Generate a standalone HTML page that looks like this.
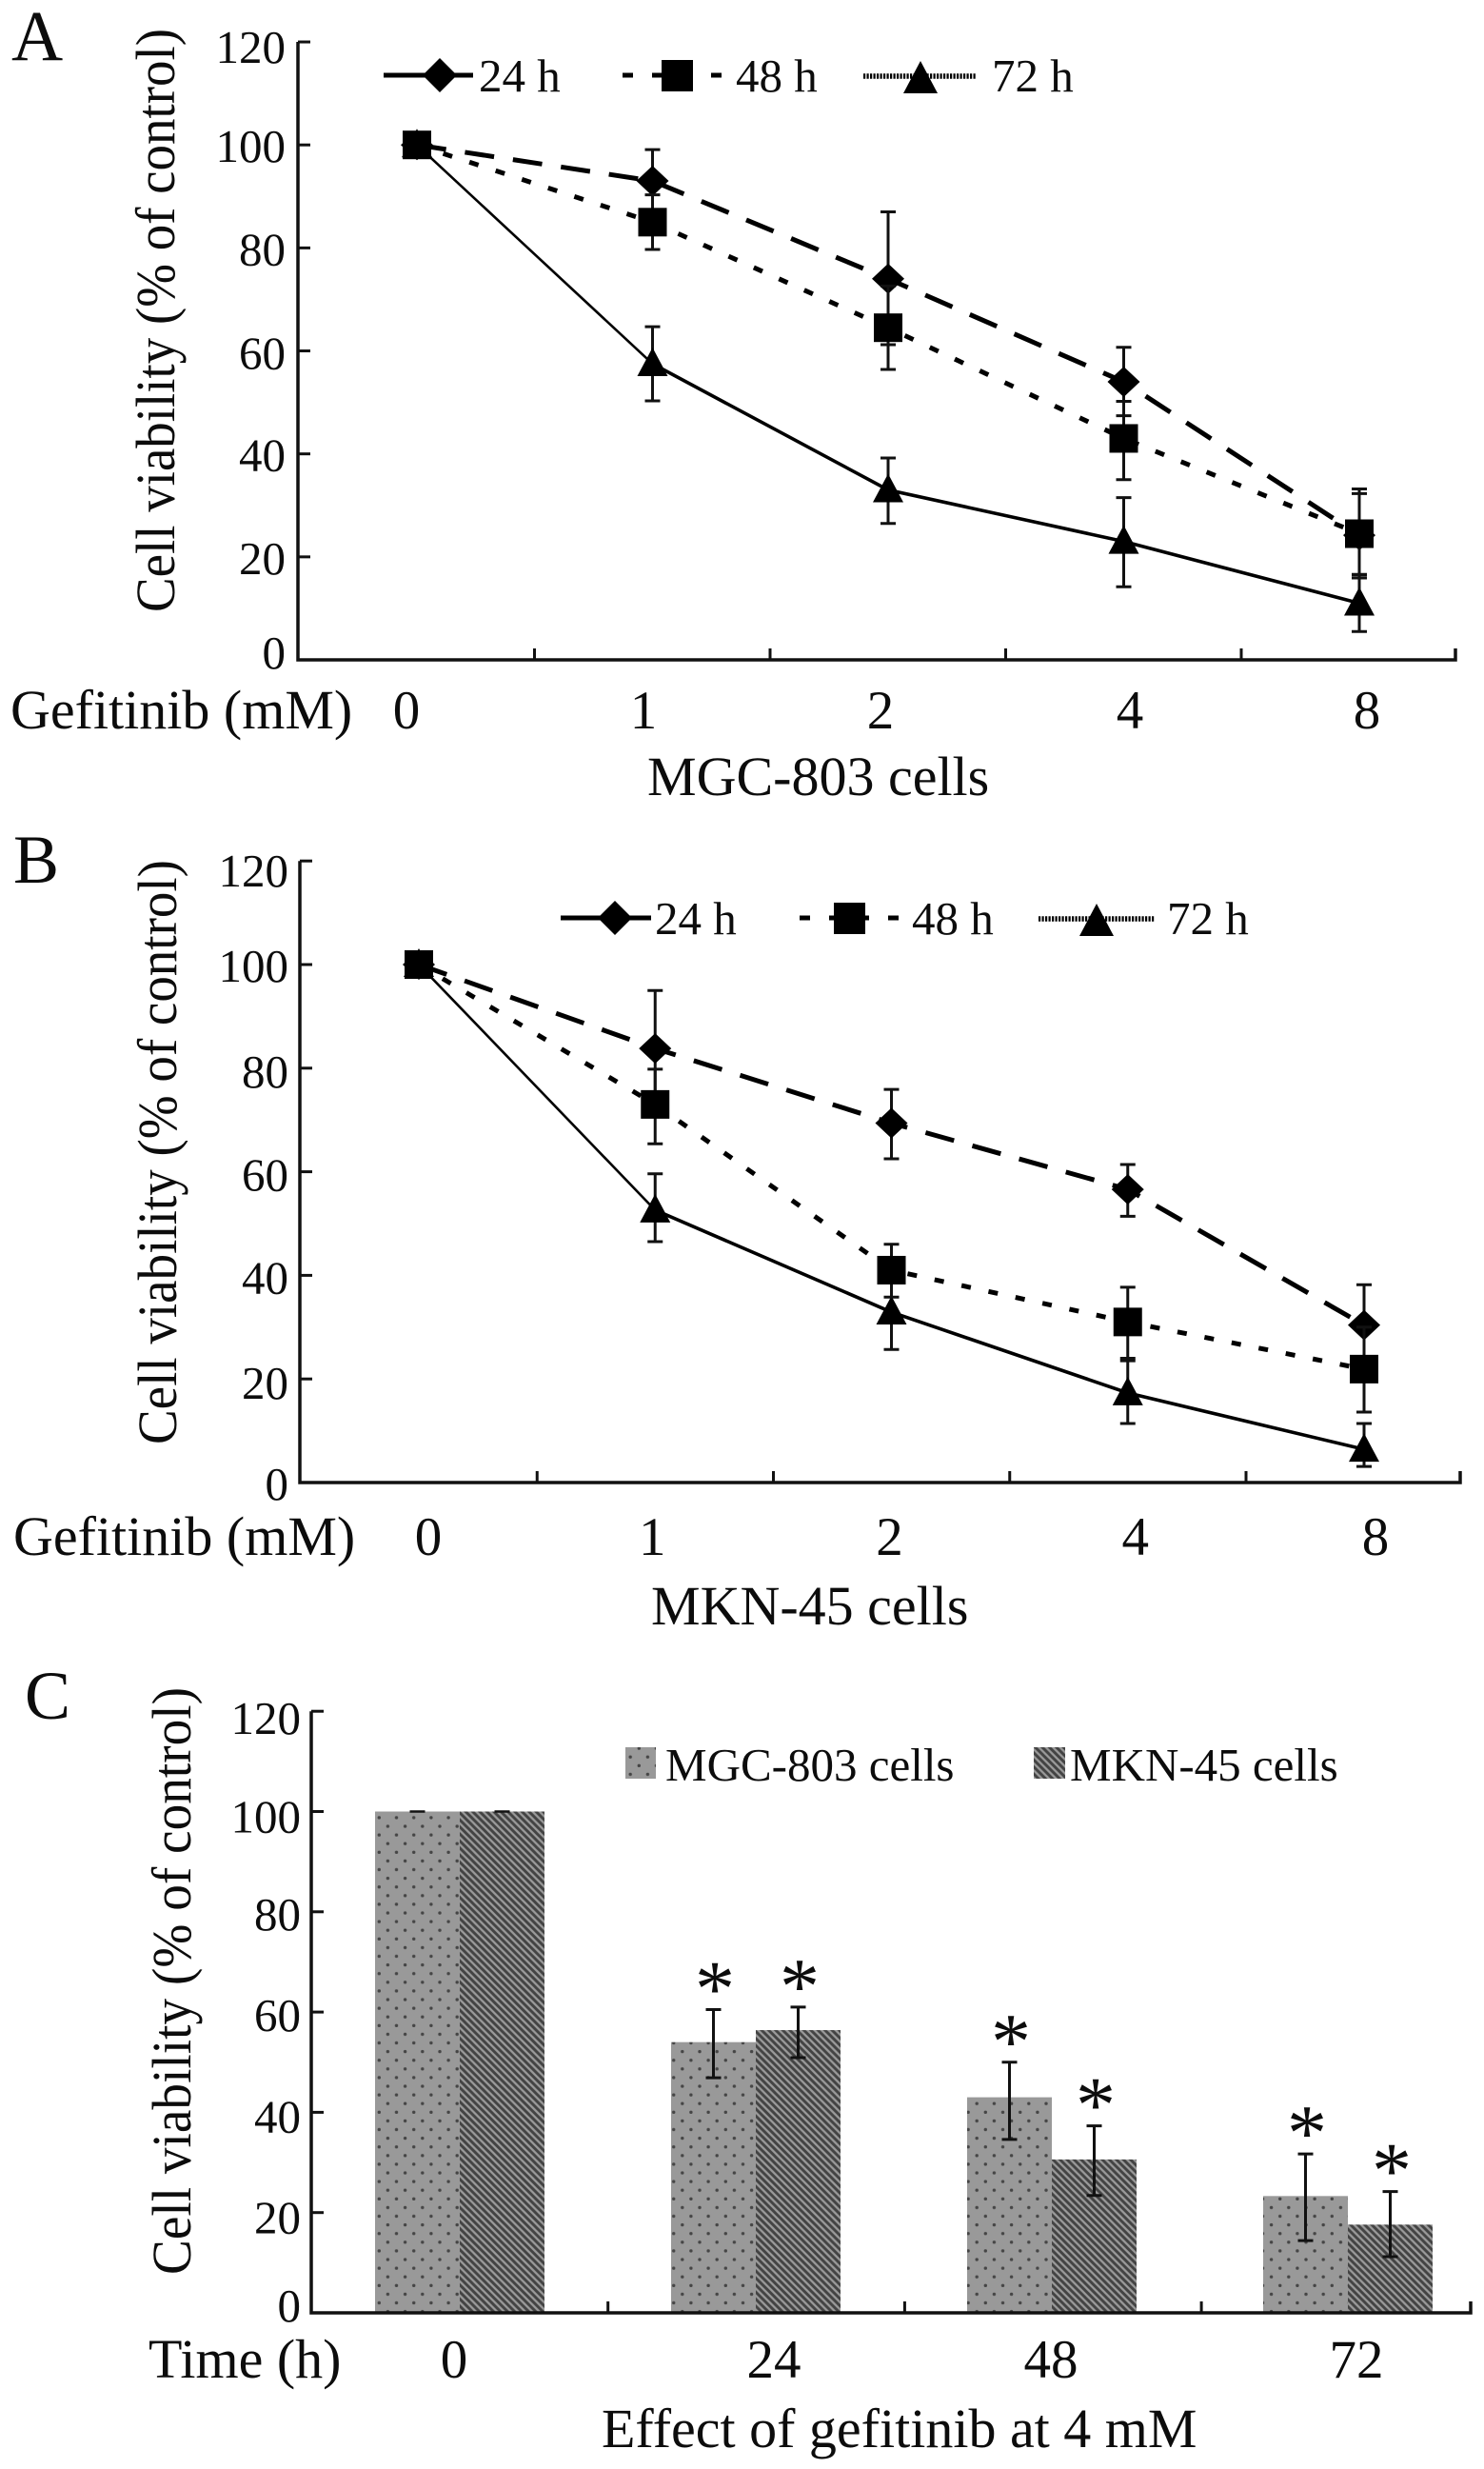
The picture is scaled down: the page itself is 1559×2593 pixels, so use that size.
<!DOCTYPE html>
<html lang="en">
<head>
<meta charset="utf-8">
<title>Cell viability under gefitinib</title>
<style>
html,body{margin:0;padding:0;background:#fff;}
svg{display:block;}
text{font-family:"Liberation Serif",serif;fill:#0c0c0c;}
</style>
</head>
<body>
<svg id="figure" xmlns="http://www.w3.org/2000/svg" width="1559" height="2593" viewBox="0 0 1559 2593">
  <defs>
    <pattern id="dots" patternUnits="userSpaceOnUse" width="18.2" height="18.2" x="3" y="3">
      <rect width="18.2" height="18.2" fill="#999999"/>
      <circle cx="4" cy="4" r="1.7" fill="#454545"/>
      <circle cx="13.1" cy="13.1" r="1.7" fill="#454545"/>
    </pattern>
    <pattern id="hatch" patternUnits="userSpaceOnUse" width="7.4" height="7.4">
      <rect width="7.4" height="7.4" fill="#9a9a9a"/>
      <path d="M-2,-2 L9.4,9.4 M-2,5.4 L2,9.4 M5.4,-2 L9.4,2" stroke="#434343" stroke-width="2.9" fill="none"/>
    </pattern>
  </defs>
  <rect width="1559" height="2593" fill="#ffffff"/>

  <g id="panel-a">
    <text x="12" y="63" font-size="75">A</text>
    <text transform="translate(183,643) rotate(-90)" font-size="58" textLength="613" lengthAdjust="spacingAndGlyphs">Cell viability (% of control)</text>
    <text x="11" y="765" font-size="58">Gefitinib (mM)</text>
    <text x="680" y="835" font-size="58">MGC-803 cells</text>
    <g>
      <line x1="403" y1="79" x2="497" y2="79" stroke="#000" stroke-width="5"/>
      <path d="M462,61 L480,79 L462,97 L444,79 Z" fill="#000"/>
      <text x="503" y="96" font-size="49">24 h</text>
      <line x1="654" y1="79" x2="765" y2="79" stroke="#000" stroke-width="5" stroke-dasharray="11 20"/>
      <rect x="695" y="63" width="33" height="33" fill="#000"/>
      <text x="773" y="96" font-size="49">48 h</text>
      <line x1="907" y1="80" x2="1026" y2="80" stroke="#000" stroke-width="5.5" stroke-dasharray="2.2 1.3"/>
      <path d="M967,64 L985,98 L949,98 Z" fill="#000"/>
      <text x="1042" y="96" font-size="49">72 h</text>
    </g>
  </g>

  <g id="panel-b">
    <text x="14" y="927" font-size="72">B</text>
    <text transform="translate(185,1517) rotate(-90)" font-size="58" textLength="614" lengthAdjust="spacingAndGlyphs">Cell viability (% of control)</text>
    <text x="14" y="1633" font-size="58">Gefitinib (mM)</text>
    <text x="684" y="1706" font-size="58">MKN-45 cells</text>
    <g>
      <line x1="589" y1="964" x2="684" y2="964" stroke="#000" stroke-width="5"/>
      <path d="M646,946 L664,964 L646,982 L628,964 Z" fill="#000"/>
      <text x="688" y="981" font-size="49">24 h</text>
      <line x1="840" y1="964" x2="951" y2="964" stroke="#000" stroke-width="5" stroke-dasharray="11 20"/>
      <rect x="876" y="948" width="33" height="33" fill="#000"/>
      <text x="958" y="981" font-size="49">48 h</text>
      <line x1="1091" y1="965" x2="1213" y2="965" stroke="#000" stroke-width="5.5" stroke-dasharray="2.2 1.3"/>
      <path d="M1152,949 L1170,983 L1134,983 Z" fill="#000"/>
      <text x="1226" y="981" font-size="49">72 h</text>
    </g>
  </g>

  <g id="panel-c">
    <text x="26" y="1805" font-size="72">C</text>
    <text transform="translate(200,2389) rotate(-90)" font-size="58" textLength="617" lengthAdjust="spacingAndGlyphs">Cell viability (% of control)</text>
    <text x="156" y="2497" font-size="58">Time (h)</text>
    <text x="632" y="2570" font-size="58">Effect of gefitinib at 4 mM</text>
    <g>
      <rect x="657" y="1835" width="32" height="33" fill="url(#dots)"/>
      <text x="699" y="1870" font-size="49">MGC-803 cells</text>
      <rect x="1086" y="1835" width="33" height="33" fill="url(#hatch)"/>
      <text x="1124" y="1870" font-size="49">MKN-45 cells</text>
    </g>
  </g>
</svg>

<script>
// ---- shared axis data ----
var yTickValues = [0, 20, 40, 60, 80, 100, 120];
var doseLabels = ["0", "1", "2", "4", "8"];
var timeLabels = ["0", "24", "48", "72"];

// ---- panel A: MGC-803 ----
var a24 = [100, 93, 74, 54, 24.2];
var a24Low = [100, 86.5, 61.2, 47.4, 15.9];
var a24High = [100, 99.1, 87, 60.7, 33.2];
var a48 = [100, 85, 64.5, 43, 24.5];
var a48Low = [100, 79.7, 56.4, 35, 16.6];
var a48High = [100, 90.3, 72.6, 50.2, 32.3];
var a72 = [100, 57.5, 33, 23, 11];
var a72Low = [100, 50.3, 26.5, 14.2, 5.5];
var a72High = [100, 64.7, 39.2, 31.5, 16.5];

// ---- panel B: MKN-45 ----
var b24 = [100, 83.8, 69.4, 56.6, 30.4];
var b24Low = [100, 72.6, 62.5, 51.4, 22.6];
var b24High = [100, 95, 75.9, 61.4, 38.2];
var b48 = [100, 73, 41, 31, 21.9];
var b48Low = [100, 65.4, 35.8, 24, 13.6];
var b48High = [100, 79.8, 46, 37.7, 30];
var b72 = [100, 52.6, 32.9, 17.3, 6.4];
var b72Low = [100, 46.5, 25.7, 11.4, 3.1];
var b72High = [100, 59.6, 39, 23.5, 11.4];

// ---- panel C: bars at 4 mM ----
var cMgc = [100, 54, 43, 23.3];
var cMgcLow = [100, 46.9, 34.6, 14.4];
var cMgcHigh = [100, 60.5, 50, 31.7];
var cMkn = [100, 56.4, 30.6, 17.6];
var cMknLow = [100, 50.9, 23.4, 11.2];
var cMknHigh = [100, 61, 37.3, 24.2];
var cMgcStars = ["", "*", "*", "*"];
var cMknStars = ["", "*", "*", "*"];

var NS = "http://www.w3.org/2000/svg";

function make(parent, tag, attrs) {
  var node = document.createElementNS(NS, tag);
  for (var k in attrs) { node.setAttribute(k, attrs[k]); }
  parent.appendChild(node);
  return node;
}

function drawAxes(parent, cfg) {
  var axis = make(parent, "path", {
    d: "M" + cfg.left + "," + cfg.yOf(120) + " V" + cfg.yOf(0) + " H" + cfg.right + " V" + (cfg.yOf(0) - 12),
    fill: "none", stroke: "#111", "stroke-width": 3.5
  });
  
  

  yTickValues.forEach(function (v, i) {
    var tick = make(parent, "line", {
      x1: cfg.left, x2: cfg.left + 13, y1: cfg.yOf(v), y2: cfg.yOf(v), stroke: "#111", "stroke-width": 3
    });
    
    
    var label = make(parent, "text", {
      x: cfg.labelRight, y: cfg.yOf(v) + cfg.labelShift[i], "font-size": 49, "text-anchor": "end"
    });
    label.textContent = String(v);
    
    
  });

  for (var t = 1; t < cfg.edgeCount; t++) {
    var xt = make(parent, "line", {
      x1: cfg.edgeOf(t), x2: cfg.edgeOf(t), y1: cfg.yOf(0), y2: cfg.yOf(0) - 12, stroke: "#111", "stroke-width": 3
    });
    
    
  }

  cfg.xLabels.forEach(function (txt, i) {
    var lab = make(parent, "text", {
      x: cfg.xLabelAt(i), y: cfg.xLabelY, "font-size": 57, "text-anchor": "middle"
    });
    lab.textContent = txt;
    
    
  });
}

function drawErrorBar(parent, x, yHigh, yLow) {
  var d = "M" + x + "," + yHigh + " V" + yLow +
          " M" + (x - 8) + "," + yHigh + " H" + (x + 8) +
          " M" + (x - 8) + "," + yLow + " H" + (x + 8);
  var bar = make(parent, "path", { d: d, fill: "none", stroke: "#111", "stroke-width": 3 });
  
  
}

function drawSeries(parent, cfg, name, values, low, high, kind) {
  var group = make(parent, "g", {});
  
  

  values.forEach(function (v, i) {
    if (low[i] !== high[i]) { drawErrorBar(group, cfg.xOf(i), cfg.yOf(high[i]), cfg.yOf(low[i])); }
  });

  if (kind === "solid") {
    var first = make(group, "line", {
      x1: cfg.xOf(0), y1: cfg.yOf(values[0]), x2: cfg.xOf(1), y2: cfg.yOf(values[1]), stroke: "#000", "stroke-width": 2.6
    });
    
    
  }
  var pts = values.map(function (v, i) { return cfg.xOf(i) + "," + cfg.yOf(v); });
  if (kind === "solid") { pts = pts.slice(1); }
  var line = make(group, "polyline", { points: pts.join(" "), fill: "none", stroke: "#000" });
  if (kind === "long") { line.setAttribute("stroke-width", 5); line.setAttribute("stroke-dasharray", "31 20"); }
  if (kind === "short") { line.setAttribute("stroke-width", 5); line.setAttribute("stroke-dasharray", "10 19"); }
  if (kind === "solid") { line.setAttribute("stroke-width", 3.6); }
  
  

  values.forEach(function (v, i) {
    var x = cfg.xOf(i), y = cfg.yOf(v), m;
    if (kind === "long") {
      m = make(group, "path", { d: "M" + x + "," + (y - 16) + " L" + (x + 17) + "," + y + " L" + x + "," + (y + 16) + " L" + (x - 17) + "," + y + " Z", fill: "#000" });
    } else if (kind === "short") {
      m = make(group, "rect", { x: x - 15, y: y - 15, width: 30, height: 30, fill: "#000" });
    } else {
      m = make(group, "path", { d: "M" + x + "," + (y - 17) + " L" + (x + 16) + "," + (y + 13) + " L" + (x - 16) + "," + (y + 13) + " Z", fill: "#000" });
    }
    
    
  });
}

// ---- panel A ----
var panelA = document.getElementById("panel-a");
var cfgA = {
  left: 313, right: 1529, edgeCount: 5, labelRight: 300,
  labelShift: [9, 18, 18, 19, 18, 18, 22], xLabels: doseLabels, xLabelY: 765,
  yOf: function (v) { return 693 - v * 5.408; },
  xOf: function (i) { return 438 + i * 247.5; },
  edgeOf: function (i) { return 314 + i * 247.5; },
  labelNudge: [-11, -9.5, -8, 6.5, 8],
  xLabelAt: function (i) { return this.xOf(i) + this.labelNudge[i]; }
};
drawAxes(panelA, cfgA);
drawSeries(panelA, cfgA, "72h", a72, a72Low, a72High, "solid");
drawSeries(panelA, cfgA, "24h", a24, a24Low, a24High, "long");
drawSeries(panelA, cfgA, "48h", a48, a48Low, a48High, "short");

// ---- panel B ----
var panelB = document.getElementById("panel-b");
var cfgB = {
  left: 315, right: 1534, edgeCount: 5, labelRight: 303,
  labelShift: [18, 21, 19, 20, 20, 18, 27], xLabels: doseLabels, xLabelY: 1633,
  yOf: function (v) { return 1557 - v * 5.44; },
  xOf: function (i) { return 440 + i * 248.25; },
  edgeOf: function (i) { return 316 + i * 248.25; },
  labelNudge: [10, -3, -2, 8, 12],
  xLabelAt: function (i) { return this.xOf(i) + this.labelNudge[i]; }
};
drawAxes(panelB, cfgB);
drawSeries(panelB, cfgB, "72h", b72, b72Low, b72High, "solid");
drawSeries(panelB, cfgB, "24h", b24, b24Low, b24High, "long");
drawSeries(panelB, cfgB, "48h", b48, b48Low, b48High, "short");

// ---- panel C ----
var panelC = document.getElementById("panel-c");
var barWidth = 89;
var cfgC = {
  left: 327, right: 1545, edgeCount: 4, labelRight: 316,
  labelShift: [9, 22, 21, 20, 19, 22, 24], xLabels: timeLabels, xLabelY: 2497,
  yOf: function (v) { return 2429 - v * 5.265; },
  groupX: function (g) { return 483 + g * 311; },
  edgeOf: function (g) { return 327 + g * 311.7; },
  labelNudge: [-6, 19, -1, 9],
  xLabelAt: function (g) { return this.groupX(g) + this.labelNudge[g]; }
};

function drawBars(name, values, side, fill) {
  var group = make(panelC, "g", {});
  
  
  values.forEach(function (v, g) {
    var cx = cfgC.groupX(g);
    var barX = side < 0 ? cx - barWidth : cx;
    var bar = make(group, "rect", {
      x: barX, y: cfgC.yOf(v), width: barWidth, height: cfgC.yOf(0) - cfgC.yOf(v), fill: fill
    });
    
    
  });
}

function drawBarOverlays(name, low, high, stars, side) {
  low.forEach(function (l, g) {
    var ex = cfgC.groupX(g) + side * barWidth / 2;
    if (l !== high[g]) {
      drawErrorBar(panelC, ex, cfgC.yOf(high[g]), cfgC.yOf(l));
    } else {
      var cap = make(panelC, "line", {
        x1: ex - 8, x2: ex + 8, y1: cfgC.yOf(high[g]), y2: cfgC.yOf(high[g]), stroke: "#111", "stroke-width": 2.5
      });
      
      
    }
    if (stars[g]) {
      var star = make(panelC, "text", {
        x: ex + 1.5, y: cfgC.yOf(high[g]) - 34 + 40, "font-size": 84, "text-anchor": "middle"
      });
      star.textContent = stars[g];
      
      
    }
  });
}

drawBars("mgc-803", cMgc, -1, "url(#dots)");
drawBars("mkn-45", cMkn, 1, "url(#hatch)");
drawAxes(panelC, cfgC);
drawBarOverlays("mgc-803", cMgcLow, cMgcHigh, cMgcStars, -1);
drawBarOverlays("mkn-45", cMknLow, cMknHigh, cMknStars, 1);
</script>
</body>
</html>
